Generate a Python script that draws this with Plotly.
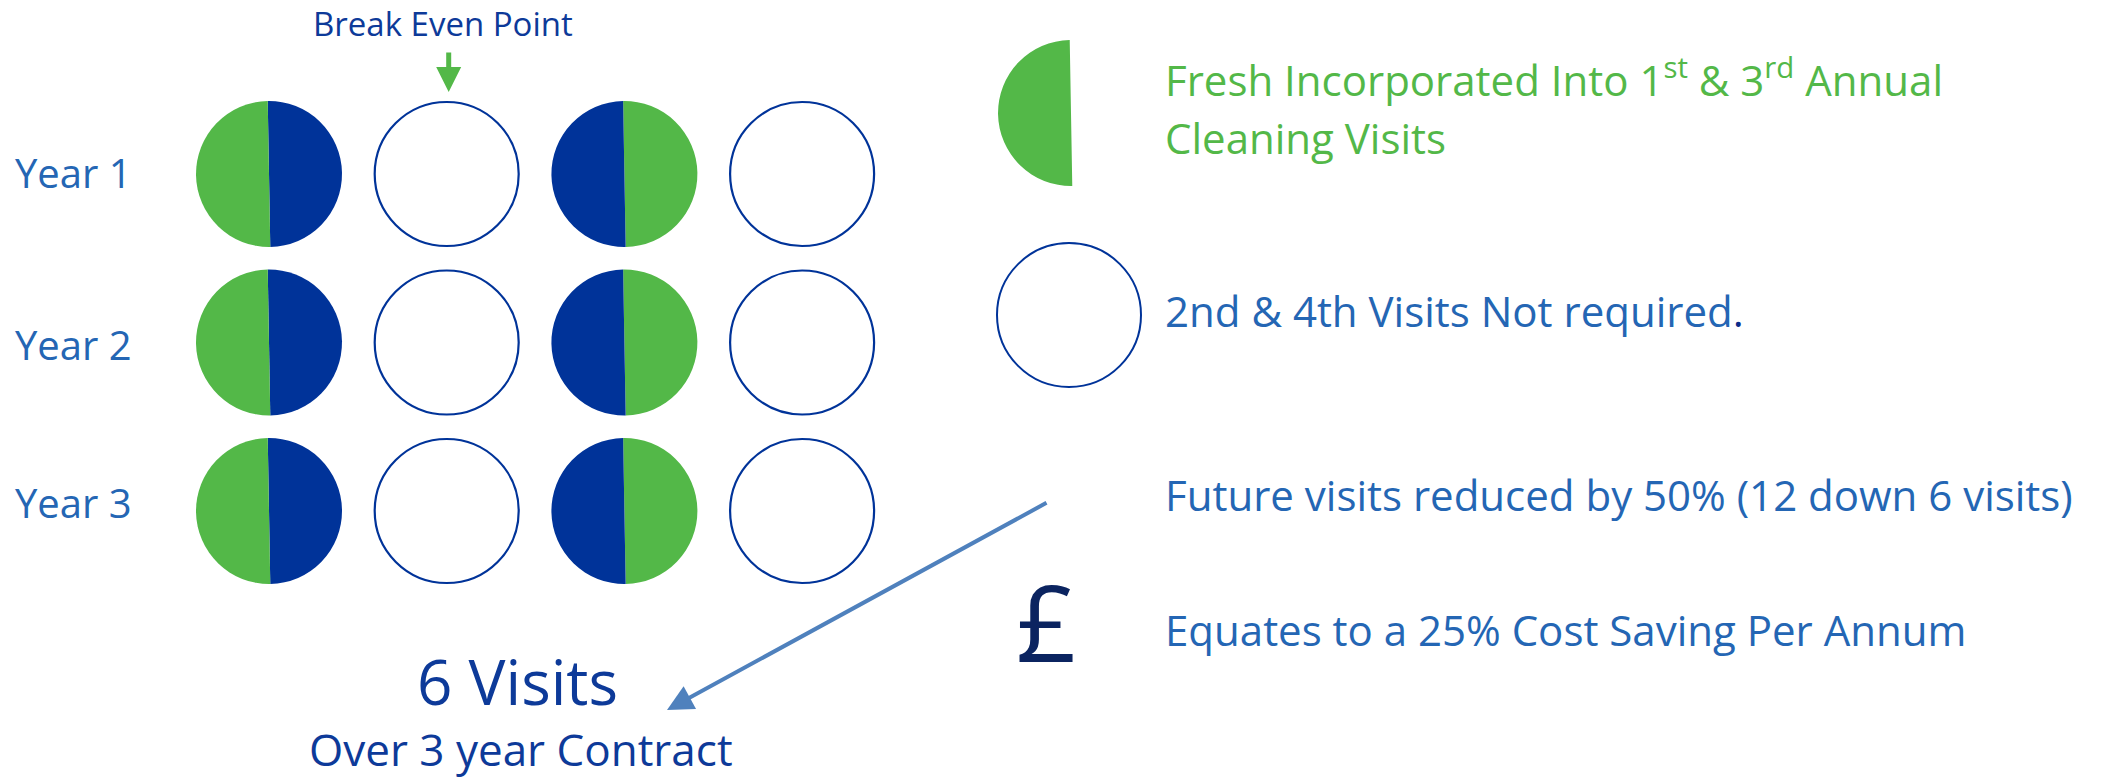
import plotly.graph_objects as go

# ---------------- data ----------------
years = ["Year 1", "Year 2", "Year 3"]
visits = ["Visit 1", "Visit 2", "Visit 3", "Visit 4"]
# 1 = visit carried out (fresh incorporated), 0 = visit not required
visit_required = [
    [1, 0, 1, 0],
    [1, 0, 1, 0],
    [1, 0, 1, 0],
]
# which half of the visit marker is green (fresh) for required visits
green_side = ["left", "", "right", ""]
visits_before = 12
visits_after = 6
visit_reduction_pct = 50
cost_saving_pct = 25
contract_years = 3
break_even_visit = "Visit 2"

# ---------------- styling / layout constants ----------------
W, H = 2105, 777
GREEN = "#53b848"
NAVY = "#003399"
TEXT_BLUE = "#2466b4"
DARK_NAVY = "#0d3a99"
POUND = "#0b2460"
ARROW_BLUE = "#4f81bd"
FONT = "Open Sans"

GX0, GDX = 269, 177.7      # grid column centre / spacing (px)
GY0, GDY = 174, 168.5      # grid row centre / spacing (px)
R = 73                     # marker radius (px)
YEAR_LABEL_Y = [172, 344, 502]
YEAR_LABEL_X = 73


def dom(cx, cy, r):
    return dict(x=[(cx - r) / W, (cx + r) / W],
                y=[1 - (cy + r) / H, 1 - (cy - r) / H])


fig = go.Figure()

# invisible cartesian trace so the pixel-unit axes exist for annotations
fig.add_trace(go.Scatter(x=[], y=[], mode="markers", hoverinfo="skip", showlegend=False))

# grid of visit markers
for yi, yr in enumerate(years):
    for vi, v in enumerate(visits):
        cx = GX0 + vi * GDX
        cy = GY0 + yi * GDY
        if visit_required[yi][vi]:
            # clockwise from 12 o'clock: first slice = right half
            cols = [NAVY, GREEN] if green_side[vi] == "left" else [GREEN, NAVY]
            fig.add_trace(go.Pie(values=[1, 1], labels=["right", "left"],
                                 marker=dict(colors=cols, line=dict(width=0)),
                                 sort=False, direction="clockwise", rotation=-1,
                                 textinfo="none", hoverinfo="skip",
                                 domain=dom(cx, cy, R), showlegend=False))
        else:
            fig.add_trace(go.Pie(values=[1], labels=["not required"],
                                 marker=dict(colors=["white"], line=dict(color=NAVY, width=2.2)),
                                 sort=False, textinfo="none", hoverinfo="skip",
                                 domain=dom(cx, cy, R - 1), showlegend=False))

# legend markers
fig.add_trace(go.Pie(values=[1, 1], labels=["blank", "fresh"],
                     marker=dict(colors=["rgba(0,0,0,0)", GREEN], line=dict(width=0)),
                     sort=False, direction="clockwise", rotation=-1,
                     textinfo="none", hoverinfo="skip",
                     domain=dom(1071, 113, 73), showlegend=False))
fig.add_trace(go.Pie(values=[1], labels=["not required"],
                     marker=dict(colors=["white"], line=dict(color=NAVY, width=2)),
                     sort=False, textinfo="none", hoverinfo="skip",
                     domain=dom(1069, 315, 72), showlegend=False))

ann = []
# year labels
for yi, yr in enumerate(years):
    ann.append(dict(x=YEAR_LABEL_X, y=YEAR_LABEL_Y[yi], text=yr, showarrow=False,
                    xanchor="center", yanchor="middle",
                    font=dict(family=FONT, size=40, color=TEXT_BLUE)))

# break even label + arrow
be_x = GX0 + visits.index(break_even_visit) * GDX + 2
ann.append(dict(x=443, y=23, text="Break Even Point", showarrow=False,
                xanchor="center", yanchor="middle",
                font=dict(family=FONT, size=33, color=DARK_NAVY)))
ann.append(dict(x=be_x, y=92, ax=be_x, ay=51, axref="x", ayref="y",
                text="", showarrow=True, arrowhead=2, arrowsize=1,
                arrowwidth=5, arrowcolor=GREEN))

# legend texts
LX = 1163
LSIZE = 42
ann.append(dict(x=LX, y=77, text="Fresh Incorporated Into 1<sup>st</sup> &amp; 3<sup>rd</sup> Annual",
                showarrow=False, xanchor="left", yanchor="middle",
                font=dict(family=FONT, size=LSIZE, color=GREEN)))
ann.append(dict(x=LX, y=137, text="Cleaning Visits",
                showarrow=False, xanchor="left", yanchor="middle",
                font=dict(family=FONT, size=LSIZE, color=GREEN)))
ann.append(dict(x=LX, y=310,
                text="2nd &amp; 4th Visits Not required<span style='color:#0b2c8a'>.</span>",
                showarrow=False, xanchor="left", yanchor="middle",
                font=dict(family=FONT, size=LSIZE, color=TEXT_BLUE)))
ann.append(dict(x=LX, y=494,
                text=f"Future visits reduced by {visit_reduction_pct}% ({visits_before} down {visits_after} visits)",
                showarrow=False, xanchor="left", yanchor="middle",
                font=dict(family=FONT, size=LSIZE, color=TEXT_BLUE)))
ann.append(dict(x=1046, y=621, text="£", showarrow=False,
                xanchor="center", yanchor="middle",
                font=dict(family=FONT, size=106, color=POUND)))
ann.append(dict(x=LX, y=629,
                text=f"Equates to a {cost_saving_pct}% Cost Saving Per Annum",
                showarrow=False, xanchor="left", yanchor="middle",
                font=dict(family=FONT, size=LSIZE, color=TEXT_BLUE)))

# totals
ann.append(dict(x=517, y=681, text=f"{visits_after} Visits", showarrow=False,
                xanchor="center", yanchor="middle",
                font=dict(family=FONT, size=62, color=DARK_NAVY)))
ann.append(dict(x=521, y=749, text=f"Over {contract_years} year Contract", showarrow=False,
                xanchor="center", yanchor="middle",
                font=dict(family=FONT, size=44, color=DARK_NAVY)))

# connecting arrow
ann.append(dict(x=667, y=710, ax=1048, ay=502, axref="x", ayref="y",
                text="", showarrow=True, arrowhead=2, arrowsize=1.3,
                arrowwidth=4, arrowcolor=ARROW_BLUE))

fig.update_layout(
    width=W, height=H,
    margin=dict(l=0, r=0, t=0, b=0),
    paper_bgcolor="white", plot_bgcolor="white",
    xaxis=dict(range=[0, W], visible=False, fixedrange=True),
    yaxis=dict(range=[H, 0], visible=False, fixedrange=True),
    annotations=ann,
    showlegend=False,
)

fig.write_html("out.html", config={"displayModeBar": False},
               post_script="document.body.style.margin='0';document.body.style.overflow='hidden';")
